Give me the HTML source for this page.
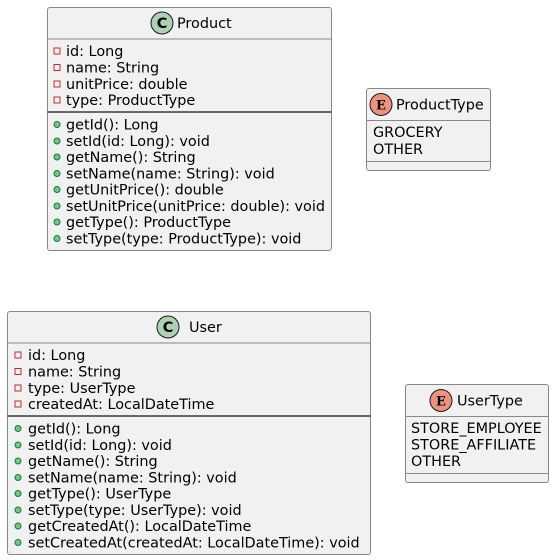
<!DOCTYPE html>
<html><head><style>body{margin:0;background:#fff}svg{display:block}text{font-family:"DejaVu Sans","Liberation Sans",sans-serif;font-size:14.4px;fill:#000}</style></head><body>
<svg width="554" height="560" xmlns="http://www.w3.org/2000/svg">
<defs>
<g id="pa"><rect x="-3" y="-3" width="6" height="6" fill="none" stroke="#C82930" stroke-width="1"/></g>
<g id="pm"><circle r="3" fill="#84BE84" stroke="#038048" stroke-width="1"/></g>
</defs>
<!-- Product -->
<rect x="47.5" y="7.5" width="284" height="243" rx="2.5" fill="#F1F1F1" stroke="#888"/>
<line x1="47.5" y1="39" x2="331.5" y2="39" stroke="#888"/>
<line x1="47.5" y1="112" x2="331.5" y2="112" stroke="#181818" stroke-width="1.2"/>
<circle cx="162" cy="23" r="11" fill="#ADD1B2" stroke="#181818"/>
<text x="162" y="28" text-anchor="middle" font-weight="bold">C</text>
<text x="177" y="28">Product</text>
<use href="#pa" x="57" y="51"/><text x="66" y="56">id: Long</text>
<use href="#pa" x="57" y="67.5"/><text x="66" y="72.5">name: String</text>
<use href="#pa" x="57" y="84"/><text x="66" y="89">unitPrice: double</text>
<use href="#pa" x="57" y="100"/><text x="66" y="105">type: ProductType</text>
<use href="#pm" x="57" y="124.5"/><text x="66" y="129.5">getId(): Long</text>
<use href="#pm" x="57" y="141"/><text x="66" y="146">setId(id: Long): void</text>
<use href="#pm" x="57" y="157"/><text x="66" y="162">getName(): String</text>
<use href="#pm" x="57" y="173.5"/><text x="66" y="178.5">setName(name: String): void</text>
<use href="#pm" x="57" y="189.5"/><text x="66" y="194.5">getUnitPrice(): double</text>
<use href="#pm" x="57" y="206"/><text x="66" y="211">setUnitPrice(unitPrice: double): void</text>
<use href="#pm" x="57" y="222"/><text x="66" y="227">getType(): ProductType</text>
<use href="#pm" x="57" y="238.5"/><text x="66" y="243.5">setType(type: ProductType): void</text>
<!-- ProductType -->
<rect x="366.5" y="88.5" width="124" height="82" rx="2.5" fill="#F1F1F1" stroke="#888"/>
<line x1="366.5" y1="120.5" x2="490.5" y2="120.5" stroke="#888"/>
<line x1="366.5" y1="161.5" x2="490.5" y2="161.5" stroke="#888"/>
<circle cx="381" cy="104.5" r="11" fill="#EB937F" stroke="#181818"/>
<text x="381" y="109.5" text-anchor="middle" font-weight="bold" style="font-family:'DejaVu Serif',serif;font-size:13px">E</text>
<text x="396" y="109.5">ProductType</text>
<text x="373" y="137">GROCERY</text>
<text x="373" y="154">OTHER</text>
<!-- User -->
<rect x="7.5" y="311.5" width="363" height="243" rx="2.5" fill="#F1F1F1" stroke="#888"/>
<line x1="7.5" y1="343" x2="370.5" y2="343" stroke="#888"/>
<line x1="7.5" y1="416" x2="370.5" y2="416" stroke="#181818" stroke-width="1.2"/>
<circle cx="168" cy="327" r="11" fill="#ADD1B2" stroke="#181818"/>
<text x="168" y="332" text-anchor="middle" font-weight="bold">C</text>
<text x="189" y="332">User</text>
<use href="#pa" x="18" y="355"/><text x="28" y="360">id: Long</text>
<use href="#pa" x="18" y="371.5"/><text x="28" y="376.5">name: String</text>
<use href="#pa" x="18" y="388"/><text x="28" y="393">type: UserType</text>
<use href="#pa" x="18" y="404"/><text x="28" y="409">createdAt: LocalDateTime</text>
<use href="#pm" x="18" y="428.5"/><text x="28" y="433.5">getId(): Long</text>
<use href="#pm" x="18" y="445"/><text x="28" y="450">setId(id: Long): void</text>
<use href="#pm" x="18" y="461"/><text x="28" y="466">getName(): String</text>
<use href="#pm" x="18" y="477.5"/><text x="28" y="482.5">setName(name: String): void</text>
<use href="#pm" x="18" y="493.5"/><text x="28" y="498.5">getType(): UserType</text>
<use href="#pm" x="18" y="510"/><text x="28" y="515">setType(type: UserType): void</text>
<use href="#pm" x="18" y="526"/><text x="28" y="531">getCreatedAt(): LocalDateTime</text>
<use href="#pm" x="18" y="542.5"/><text x="28" y="547.5">setCreatedAt(createdAt: LocalDateTime): void</text>
<!-- UserType -->
<rect x="405.5" y="384.5" width="143" height="98" rx="2.5" fill="#F1F1F1" stroke="#888"/>
<line x1="405.5" y1="416.5" x2="548.5" y2="416.5" stroke="#888"/>
<line x1="405.5" y1="473.5" x2="548.5" y2="473.5" stroke="#888"/>
<circle cx="441" cy="400.5" r="11" fill="#EB937F" stroke="#181818"/>
<text x="441" y="405.5" text-anchor="middle" font-weight="bold" style="font-family:'DejaVu Serif',serif;font-size:13px">E</text>
<text x="457" y="405.5">UserType</text>
<text x="411" y="433">STORE_EMPLOYEE</text>
<text x="411" y="449.5">STORE_AFFILIATE</text>
<text x="411" y="466">OTHER</text>
</svg>
</body></html>
